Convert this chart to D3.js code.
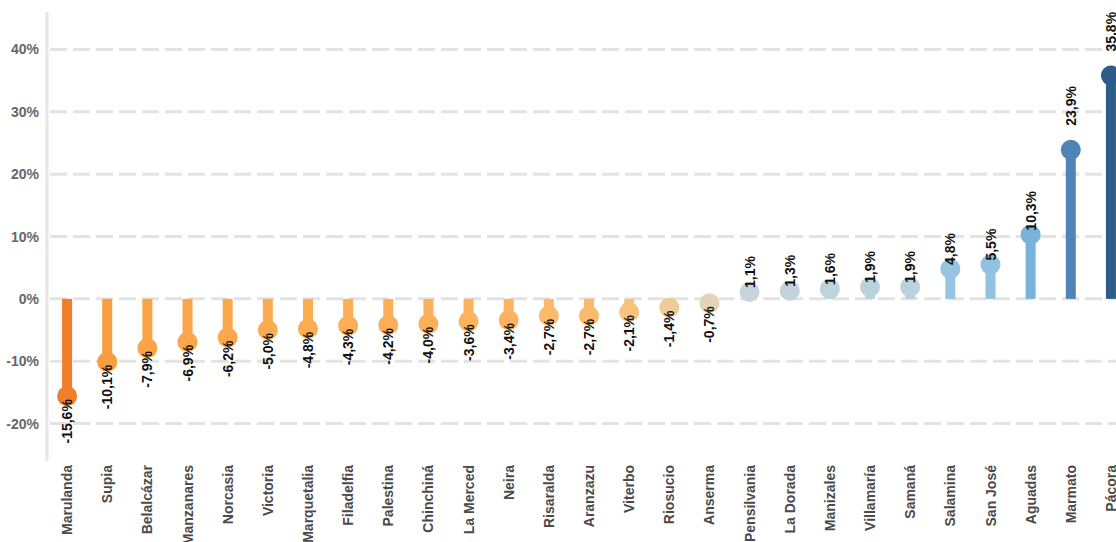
<!DOCTYPE html>
<html>
<head>
<meta charset="utf-8">
<script src="https://cdn.jsdelivr.net/npm/d3@7"></script>
<style>
  body { margin: 0; background: #fff; }
  svg { display: block; font-family: "Liberation Sans", Arial, sans-serif; }
</style>
</head>
<body>
<script>
// municipios, ordenados de menor a mayor variacion
const municipios = ["Marulanda", "Supia", "Belalcázar", "Manzanares", "Norcasia", "Victoria",
  "Marquetalia", "Filadelfia", "Palestina", "Chinchiná", "La Merced", "Neira", "Risaralda",
  "Aranzazu", "Viterbo", "Riosucio", "Anserma", "Pensilvania", "La Dorada", "Manizales",
  "Villamaría", "Samaná", "Salamina", "San José", "Aguadas", "Marmato", "Pácora"];
const variacion = [-15.6, -10.1, -7.9, -6.9, -6.2, -5.0, -4.8, -4.3, -4.2, -4.0, -3.6, -3.4, -2.7,
  -2.7, -2.1, -1.4, -0.7, 1.1, 1.3, 1.6, 1.9, 1.9, 4.8, 5.5, 10.3, 23.9, 35.8];
const yTicks = [-20, -10, 0, 10, 20, 30, 40];

const width = 1116, height = 542;

const svg = d3.select("body").append("svg")
  .attr("width", width)
  .attr("height", height);

const x = d3.scaleBand()
  .domain(municipios)
  .range([47, 1131]);

const y = d3.scaleLinear()
  .domain([-26, 46])
  .range([461, 12]);

// diverging colours, orange -> beige -> grey-blue -> dark blue
const color = d3.scaleLinear()
  .domain([-15.6, -10.1, -5, -3, -2, -0.7, 1.1, 2, 5, 10.3, 23.9, 35.8])
  .range(["#f07e2a", "#f99d40", "#fcac50", "#fdb463", "#f8c581", "#e3d3b8",
          "#c5d5db", "#b9d2dc", "#93c4e1", "#7ab3d9", "#4f84b4", "#2d5c8a"]);

const fmt = v => d3.format(".1f")(v).replace(".", ",").replace("−", "-") + "%";

// gridlines
svg.append("g").selectAll("line")
  .data(yTicks)
  .enter()
  .append("line")
  .attr("x1", 50)
  .attr("x2", width)
  .attr("y1", d => y(d))
  .attr("y2", d => y(d))
  .style("stroke", "#e3e3e3")
  .style("stroke-width", 3)
  .style("stroke-dasharray", "17,6");

// y axis line
svg.append("line")
  .attr("x1", 47).attr("x2", 47)
  .attr("y1", 12).attr("y2", 461)
  .style("stroke", "#e6e6e6")
  .style("stroke-width", 3);

// y tick labels
svg.append("g").selectAll("text")
  .data(yTicks)
  .enter()
  .append("text")
  .attr("x", 39)
  .attr("y", d => y(d))
  .attr("dy", "0.36em")
  .attr("text-anchor", "end")
  .style("font-size", "14px")
  .style("font-weight", "bold")
  .style("fill", "#666")
  .text(d => d + "%");

const data = municipios.map((m, i) => ({ name: m, value: variacion[i] }));

// stems
svg.append("g").selectAll("rect")
  .data(data)
  .enter()
  .append("rect")
  .attr("x", d => x(d.name) + x.bandwidth() / 2 - 5)
  .attr("width", 10)
  .attr("y", d => Math.min(y(d.value), y(0)))
  .attr("height", d => Math.abs(y(d.value) - y(0)))
  .style("fill", d => color(d.value));

// heads
svg.append("g").selectAll("circle")
  .data(data)
  .enter()
  .append("circle")
  .attr("cx", d => x(d.name) + x.bandwidth() / 2)
  .attr("cy", d => y(d.value))
  .attr("r", 10)
  .style("fill", d => color(d.value));

// value labels
svg.append("g").selectAll("text")
  .data(data)
  .enter()
  .append("text")
  .attr("transform", d => {
    const cx = x(d.name) + x.bandwidth() / 2;
    let ty;
    if (d.value >= 0) ty = y(d.value) - (d.value > 15 ? 24 : 4);
    else ty = y(d.value) + 3;
    return `translate(${cx},${ty}) rotate(-90)`;
  })
  .attr("dy", "0.36em")
  .attr("text-anchor", d => d.value >= 0 ? "start" : "end")
  .style("font-size", "14px")
  .style("font-weight", "bold")
  .style("fill", "#111")
  .text(d => fmt(d.value));

// category labels
svg.append("g").selectAll("text")
  .data(municipios)
  .enter()
  .append("text")
  .attr("transform", d => `translate(${x(d) + x.bandwidth() / 2},465) rotate(-90)`)
  .attr("dy", "0.36em")
  .attr("text-anchor", "end")
  .style("font-size", "14px")
  .style("font-weight", "bold")
  .style("fill", "#4a4a4a")
  .text(d => d);
</script>
</body>
</html>
